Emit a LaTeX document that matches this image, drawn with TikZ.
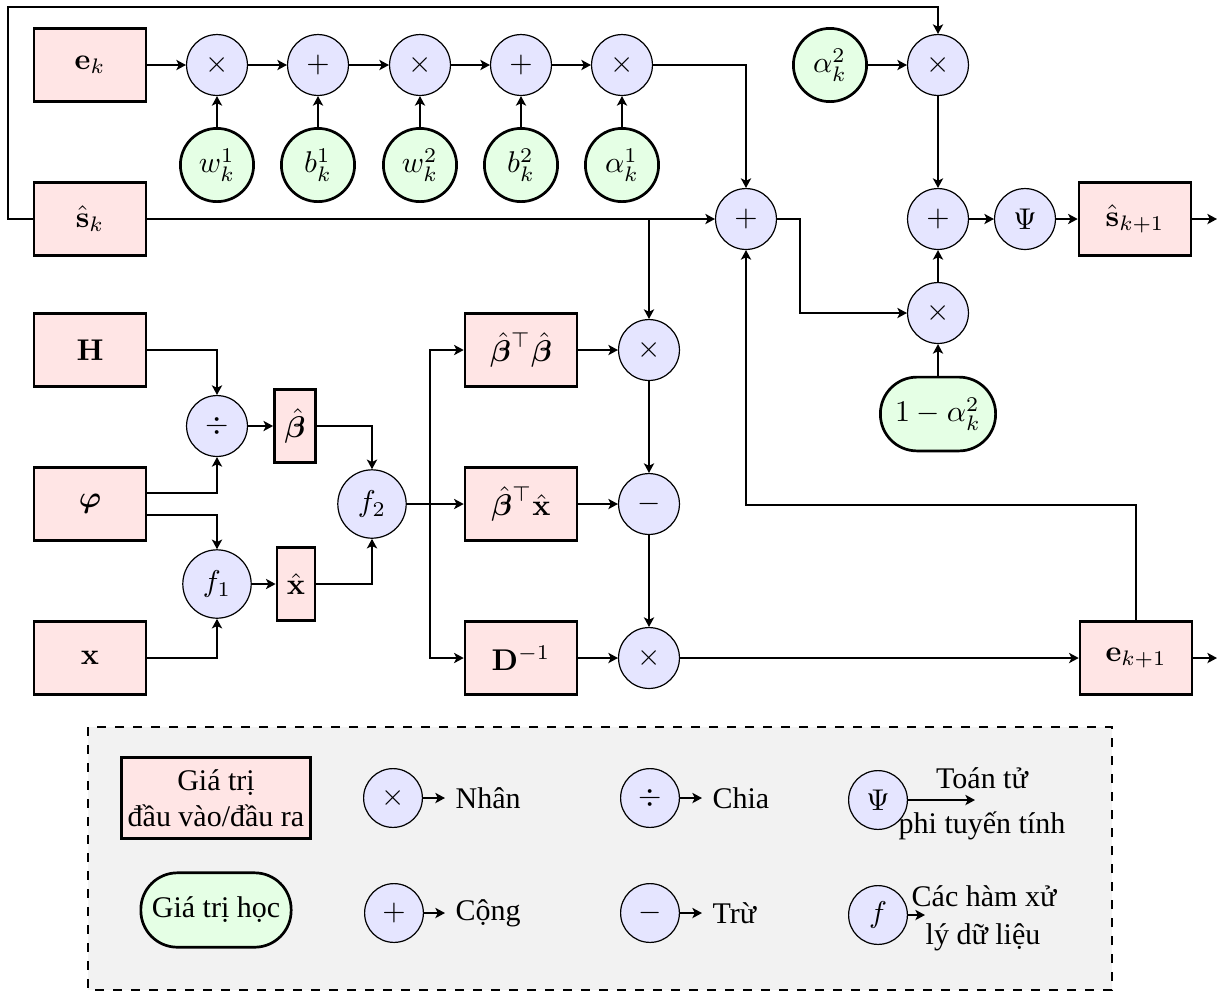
\documentclass[tikz,border=0pt]{standalone}
\usepackage[no-math]{fontspec}
\setmainfont{Liberation Serif}
\usepackage{amsmath,bm}
\usetikzlibrary{arrows.meta}
\newcommand{\trp}{^{\raisebox{1pt}{$\scriptstyle\top$}}}

\begin{document}
\begin{tikzpicture}[x=0.33333pt,y=-0.33333pt,
  iobox/.style={draw,line width=0.9pt,fill=red!10,minimum width=37.3pt,minimum height=24.3pt,inner sep=2pt},
  opnode/.style={circle,draw,line width=0.4pt,fill=blue!10,minimum size=20.3pt,inner sep=0pt},
  fnode/.style={opnode,minimum size=22.8pt},
  legop/.style={opnode,minimum size=19.6pt},
  parnode/.style={circle,draw,line width=0.9pt,fill=green!10,minimum size=24.4pt,inner sep=0pt},
  learnbox/.style={draw,line width=0.9pt,fill=green!10,rounded corners=12.2pt,minimum width=38.4pt,minimum height=24.6pt,inner sep=2pt},
  conn/.style={line width=0.7pt,-{Stealth[length=3.2pt,width=3.4pt,inset=0.8pt]}},
  wire/.style={line width=0.7pt}
]
\useasboundingbox (0,0) rectangle (1229,992);

% ---------- recurrent update of s and e ----------
\node[iobox] (ek) at (90,65) {$\mathbf{e}_k$};
\node[iobox] (sk) at (90,219) {$\hat{\mathbf{s}}_k$};
\node[opnode] (m1) at (217,65) {$\times$};
\node[opnode] (a1) at (318,65) {$+$};
\node[opnode] (m2) at (420,65) {$\times$};
\node[opnode] (a2) at (521,65) {$+$};
\node[opnode] (m3) at (622,65) {$\times$};
\node[parnode] (w1) at (217,165) {$w_k^1$};
\node[parnode] (b1) at (318,165) {$b_k^1$};
\node[parnode] (w2) at (420,165) {$w_k^2$};
\node[parnode] (b2) at (521,165) {$b_k^2$};
\node[parnode] (al1) at (622,165) {$\alpha_k^1$};
\node[opnode] (sum) at (746,219) {$+$};
\node[parnode] (al2) at (830,65) {$\alpha_k^2$};
\node[opnode] (m4) at (938,65) {$\times$};
\node[opnode] (a3) at (938,219) {$+$};
\node[opnode] (psi) at (1025,219) {$\Psi$};
\node[iobox] (sk1) at (1135,219) {$\hat{\mathbf{s}}_{k+1}$};
\node[opnode] (m5) at (938,313) {$\times$};
\node[learnbox] (oma) at (938,414) {$1-\alpha_k^2$};

% ---------- preprocessing ----------
\node[iobox] (H) at (90,350) {$\mathbf{H}$};
\node[iobox] (phi) at (90,504) {$\bm{\varphi}$};
\node[iobox] (x) at (90,658) {$\mathbf{x}$};
\node[opnode] (dv) at (217,426) {$\div$};
\node[iobox,minimum width=13.7pt] (bh) at (295,426) {$\hat{\bm{\beta}}$};
\node[fnode] (f1) at (217,584) {$f_1$};
\node[iobox,minimum width=12.7pt] (xh) at (296,584) {$\hat{\mathbf{x}}$};
\node[fnode] (f2) at (372,504) {$f_2$};
\node[iobox] (btb) at (521,350) {${\hat{\bm{\beta}}}\trp\hat{\bm{\beta}}$};
\node[iobox] (btx) at (521,504) {${\hat{\bm{\beta}}}\trp\hat{\mathbf{x}}$};
\node[iobox] (Dinv) at (521,658) {$\mathbf{D}^{-1}$};
\node[opnode] (m6) at (649,350) {$\times$};
\node[opnode] (sub) at (649,504) {$-$};
\node[opnode] (m7) at (649,658) {$\times$};
\node[iobox] (ek1) at (1136,658) {$\mathbf{e}_{k+1}$};

% ---------- connectors ----------
\draw[conn] (ek) -- (m1);
\draw[conn] (m1) -- (a1);
\draw[conn] (a1) -- (m2);
\draw[conn] (m2) -- (a2);
\draw[conn] (a2) -- (m3);
\draw[conn] (w1) -- (m1);
\draw[conn] (b1) -- (a1);
\draw[conn] (w2) -- (m2);
\draw[conn] (b2) -- (a2);
\draw[conn] (al1) -- (m3);
\draw[conn] (m3) -| (sum);
\draw[conn] (sk) -- (sum);
\draw[conn] (m6 |- sk) -- (m6);
\coordinate (fbtl) at (8,7);
\draw[conn] (sk.west) -| (fbtl) -| (m4);
\draw[conn] (al2) -- (m4);
\draw[conn] (m4) -- (a3);
\draw[conn] (a3) -- (psi);
\draw[conn] (psi) -- (sk1);
\coordinate (sout) at (1217,219);
\draw[conn] (sk1) -- (sout);
\draw[conn] (sum.east) -- ++(23,0) |- (m5);
\draw[conn] (m5) -- (a3);
\draw[conn] (oma) -- (m5);

\draw[conn] (H) -| (dv);
\draw[conn] ([yshift=3.67pt]phi.east) -| (dv);
\draw[conn] ([yshift=-3.67pt]phi.east) -| (f1);
\draw[conn] (x) -| (f1);
\draw[conn] (dv) -- (bh);
\draw[conn] (f1) -- (xh);
\draw[conn] (bh) -| (f2);
\draw[conn] (xh) -| (f2);
\coordinate (br) at (430,504);
\draw[wire] (f2) -- (br);
\draw[conn] (br) |- (btb);
\draw[conn] (br) -- (btx);
\draw[conn] (br) |- (Dinv);
\draw[conn] (btb) -- (m6);
\draw[conn] (btx) -- (sub);
\draw[conn] (Dinv) -- (m7);
\draw[conn] (m6) -- (sub);
\draw[conn] (sub) -- (m7);
\draw[conn] (m7) -- (ek1);
\coordinate (eout) at (1217,658);
\draw[conn] (ek1) -- (eout);
\coordinate (fb2) at (746,505);
\draw[conn] (ek1) |- (fb2) -- (sum);

% ---------- legend ----------
\draw[dashed,line width=0.4pt,fill=gray!10] (88,727) rectangle (1112,990);
\node[iobox,align=center,minimum height=26.8pt] (lg1) at (216,798) {Giá trị\\đầu vào/đầu ra};
\node[learnbox,minimum width=50.1pt,minimum height=24.8pt] (lg2) at (216,910) {Giá trị học};
\node[legop] (lm) at (393,798) {$\times$};
\node[anchor=west] (lmt) at (445,798) {Nhân};
\draw[conn] (lm) -- (lmt);
\node[legop] (la) at (394,913) {$+$};
\node[anchor=west] (lat) at (445,913) {Cộng};
\draw[conn] (la) -- (lat);
\node[legop] (ld) at (650,798) {$\div$};
\node[anchor=west] (ldt) at (702,798) {Chia};
\draw[conn] (ld) -- (ldt);
\node[legop] (ls) at (650,913) {$-$};
\node[anchor=west] (lst) at (702,913) {Trừ};
\draw[conn] (ls) -- (lst);
\node[legop] (lpsi) at (878,800) {$\Psi$};
\coordinate (lpe) at (975,800);
\draw[conn] (lpsi) -- (lpe);
\node (lpt1) at (982,778) {Toán tử};
\node (lpt2) at (982,826) {phi tuyến tính};
\node[legop] (lf) at (878,915) {$f$};
\coordinate (lfe) at (925,915);
\draw[conn] (lf) -- (lfe);
\node (lft1) at (984,896) {Các hàm xử};
\node (lft2) at (983,937) {lý dữ liệu};
\end{tikzpicture}
\end{document}
